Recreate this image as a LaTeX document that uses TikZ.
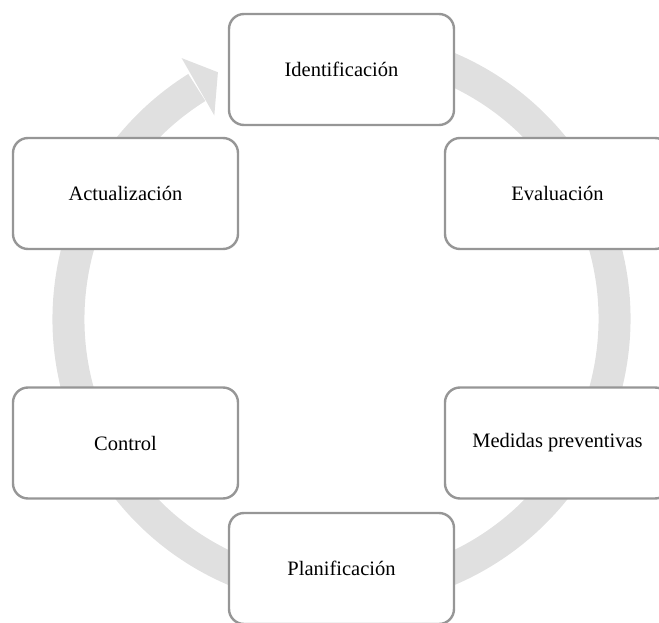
\documentclass[tikz,border=0pt]{standalone}
\usepackage{fontspec}
\setmainfont{Liberation Serif}
\usetikzlibrary{calc}
\definecolor{ringgray}{RGB}{224,224,224}
\definecolor{boxline}{RGB}{150,150,150}
\begin{document}
\begin{tikzpicture}[x=1pt,y=1pt,
  stagebox/.style={draw=boxline, line width=2.4pt, fill=white, rounded corners=15pt,
    minimum width=225pt, minimum height=111pt, inner sep=0pt,
    font=\fontsize{20.5}{24}\selectfont, text=black}]
\useasboundingbox (0,0) rectangle (659,622);
\clip (0,0) rectangle (659,622);
\coordinate (C) at (341.5,303);
% ring
\draw[ringgray, line width=32pt] (C) ++(80:273) arc[start angle=80, end angle=-238, radius=273];
% arrow head
\fill[ringgray] ($(C)+(122:240)$) coordinate (h1) -- ($(C)+(116.6:276)$) coordinate (h2) -- ($(C)+(121.5:306)$) coordinate (h3) -- cycle;
% boxes
\node[stagebox] (ident) at (341.5,552.5) {Identificación};
\node[stagebox] (eval) at (557.5,428.5) {Evaluación};
\node[stagebox] (medidas) at (557.5,179) {Medidas preventivas};
\node[stagebox] (plan) at (341.5,53.5) {Planificación};
\node[stagebox] (control) at (125.5,179) {Control};
\node[stagebox] (actual) at (125.5,428.5) {Actualización};
\end{tikzpicture}
\end{document}
